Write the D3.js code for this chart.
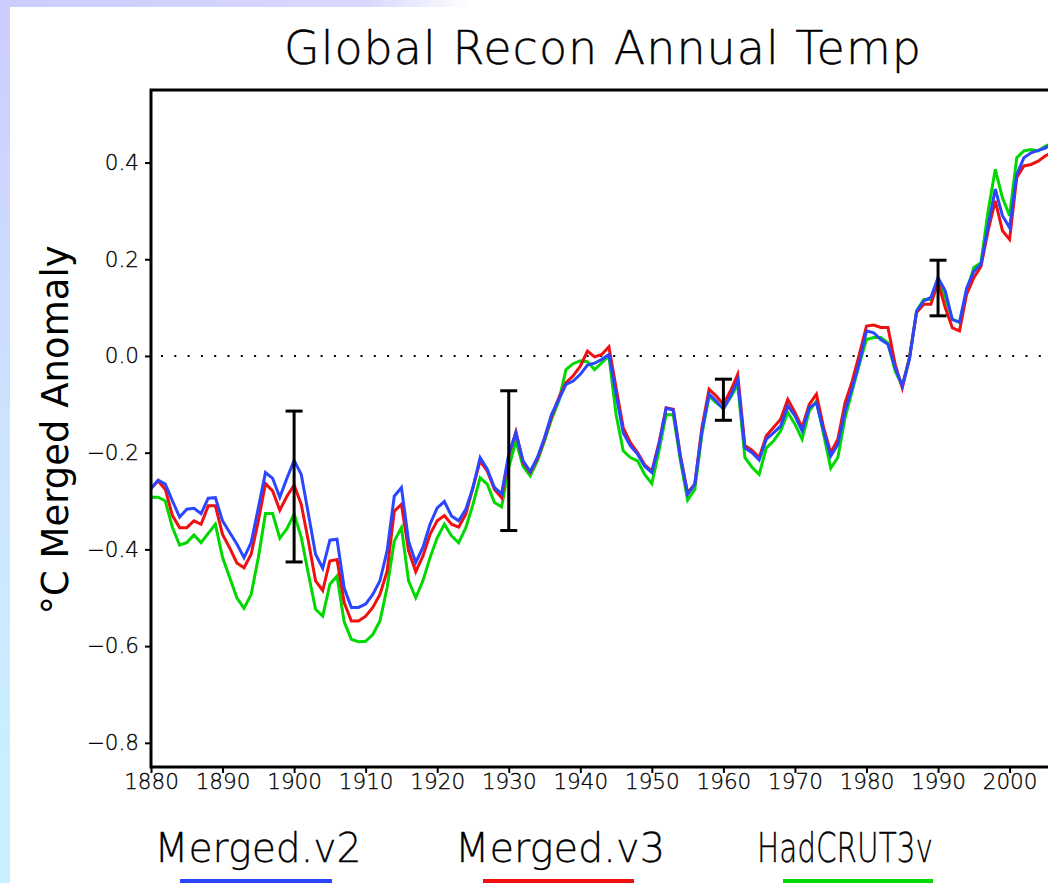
<!DOCTYPE html>
<html>
<head>
<meta charset="utf-8">
<script src="https://cdn.jsdelivr.net/npm/d3@7"></script>
<style>
  body { margin: 0; background: #fff; }
  svg { display: block; }
  text { font-family: "DejaVu Sans", sans-serif; }
</style>
</head>
<body>
<svg id="chart" width="1048" height="883"></svg>
<script>
// years 1880..2006
const years = d3.range(1880, 2007);

const mergedV2 = [
  -0.274, -0.257, -0.265, -0.300, -0.333, -0.317, -0.315, -0.326, -0.294, -0.293,
  -0.341, -0.365, -0.389, -0.417, -0.386, -0.314, -0.241, -0.253, -0.292, -0.253,
  -0.216, -0.245, -0.327, -0.410, -0.439, -0.381, -0.379, -0.480, -0.520, -0.520,
  -0.513, -0.493, -0.465, -0.403, -0.290, -0.272, -0.383, -0.427, -0.396, -0.348,
  -0.314, -0.301, -0.331, -0.341, -0.317, -0.272, -0.210, -0.234, -0.272, -0.285,
  -0.203, -0.159, -0.217, -0.239, -0.210, -0.169, -0.120, -0.090, -0.059, -0.052,
  -0.038, -0.019, -0.015, -0.007, 0.003, -0.079, -0.159, -0.186, -0.203, -0.228,
  -0.241, -0.183, -0.108, -0.112, -0.210, -0.286, -0.265, -0.155, -0.079, -0.093,
  -0.110, -0.083, -0.050, -0.190, -0.200, -0.215, -0.172, -0.159, -0.145, -0.103,
  -0.124, -0.155, -0.107, -0.097, -0.155, -0.207, -0.183, -0.114, -0.066, -0.014,
  0.052, 0.048, 0.034, 0.024, -0.024, -0.062, -0.007, 0.093, 0.114, 0.121,
  0.162, 0.135, 0.075, 0.070, 0.140, 0.175, 0.190, 0.270, 0.345, 0.290,
  0.265, 0.375, 0.410, 0.420, 0.425, 0.430, 0.440
];

const mergedV3 = [
  -0.274, -0.258, -0.276, -0.330, -0.355, -0.355, -0.341, -0.348, -0.310, -0.310,
  -0.369, -0.397, -0.428, -0.438, -0.410, -0.341, -0.264, -0.279, -0.319, -0.290,
  -0.267, -0.307, -0.383, -0.465, -0.485, -0.424, -0.421, -0.510, -0.548, -0.548,
  -0.538, -0.520, -0.493, -0.445, -0.321, -0.307, -0.403, -0.446, -0.414, -0.369,
  -0.341, -0.330, -0.348, -0.354, -0.327, -0.272, -0.217, -0.238, -0.276, -0.293,
  -0.207, -0.157, -0.220, -0.241, -0.213, -0.172, -0.125, -0.086, -0.055, -0.041,
  -0.021, 0.010, -0.002, 0.003, 0.019, -0.066, -0.148, -0.179, -0.200, -0.225,
  -0.238, -0.179, -0.107, -0.110, -0.207, -0.283, -0.265, -0.148, -0.069, -0.083,
  -0.100, -0.072, -0.038, -0.185, -0.195, -0.210, -0.165, -0.148, -0.131, -0.090,
  -0.117, -0.148, -0.100, -0.079, -0.148, -0.200, -0.172, -0.097, -0.052, 0.003,
  0.062, 0.064, 0.059, 0.059, -0.017, -0.066, -0.004, 0.090, 0.107, 0.107,
  0.152, 0.100, 0.058, 0.052, 0.128, 0.162, 0.185, 0.259, 0.321, 0.259,
  0.241, 0.369, 0.393, 0.396, 0.403, 0.414, 0.420
];

const hadcrut3v = [
  -0.292, -0.292, -0.300, -0.355, -0.391, -0.386, -0.370, -0.386, -0.367, -0.348,
  -0.417, -0.458, -0.500, -0.522, -0.493, -0.417, -0.326, -0.326, -0.377, -0.357,
  -0.327, -0.375, -0.451, -0.524, -0.538, -0.472, -0.455, -0.550, -0.586, -0.591,
  -0.590, -0.576, -0.548, -0.479, -0.383, -0.355, -0.465, -0.500, -0.465, -0.417,
  -0.376, -0.348, -0.372, -0.386, -0.355, -0.307, -0.252, -0.265, -0.303, -0.312,
  -0.231, -0.176, -0.228, -0.248, -0.217, -0.176, -0.130, -0.093, -0.028, -0.016,
  -0.010, -0.012, -0.028, -0.014, 0.000, -0.121, -0.196, -0.210, -0.217, -0.245,
  -0.264, -0.196, -0.121, -0.122, -0.217, -0.298, -0.276, -0.162, -0.083, -0.097,
  -0.108, -0.086, -0.059, -0.210, -0.230, -0.245, -0.190, -0.176, -0.155, -0.117,
  -0.141, -0.172, -0.114, -0.093, -0.162, -0.232, -0.210, -0.128, -0.072, -0.017,
  0.034, 0.038, 0.038, 0.027, -0.031, -0.062, -0.004, 0.093, 0.117, 0.117,
  0.159, 0.120, 0.076, 0.069, 0.134, 0.183, 0.193, 0.300, 0.386, 0.327,
  0.290, 0.410, 0.424, 0.427, 0.424, 0.434, 0.440
];

// error bars
const errYears = [1900, 1930, 1960, 1990];
const errHigh = [-0.114, -0.072, -0.048, 0.198];
const errLow = [-0.426, -0.361, -0.133, 0.083];

const yTicks = [-0.8, -0.6, -0.4, -0.2, 0.0, 0.2, 0.4];
const xTicks = d3.range(1880, 2001, 10);

const seriesNames = ["Merged.v2", "Merged.v3", "HadCRUT3v"];
const seriesColors = ["#2a46ff", "#f01010", "#00d800"];

const svg = d3.select("#chart");

// background: tinted strip on the left and top, white panel
const defs = svg.append("defs");
const vgrad = defs.append("linearGradient").attr("id", "leftgrad")
  .attr("x1", 0).attr("y1", 0).attr("x2", 0).attr("y2", 1);
vgrad.append("stop").attr("offset", "0%").attr("stop-color", "#ccccff");
vgrad.append("stop").attr("offset", "55%").attr("stop-color", "#cde6ff");
vgrad.append("stop").attr("offset", "100%").attr("stop-color", "#c8f2ff");
const hgrad = defs.append("linearGradient").attr("id", "topgrad")
  .attr("x1", 0).attr("y1", 0).attr("x2", 1).attr("y2", 0);
hgrad.append("stop").attr("offset", "0%").attr("stop-color", "#ccccff");
hgrad.append("stop").attr("offset", "35%").attr("stop-color", "#d8d8ff");
hgrad.append("stop").attr("offset", "45%").attr("stop-color", "#ffffff");

svg.append("rect").attr("width", 1048).attr("height", 883).attr("fill", "#fff");
svg.append("rect").attr("width", 1048).attr("height", 7).attr("fill", "url(#topgrad)");
svg.append("rect").attr("width", 10).attr("height", 883).attr("fill", "url(#leftgrad)");

const plotLeft = 151, plotTop = 90, plotBottom = 767;
const x = d3.scaleLinear().domain([1880, 2010]).range([plotLeft, plotLeft + 130 * 7.155]);
const y = d3.scaleLinear().domain([-0.85, 0.55]).range([plotBottom, plotTop]);

// clip to plot area
defs.append("clipPath").attr("id", "plotclip")
  .append("rect").attr("x", plotLeft).attr("y", plotTop)
  .attr("width", x(2010) - plotLeft).attr("height", plotBottom - plotTop);

// title
svg.append("text")
  .attr("x", 603).attr("y", 64)
  .attr("text-anchor", "middle")
  .attr("font-size", 46)
  .attr("font-weight", 200)
  .attr("stroke", "#000").attr("stroke-width", 0.4)
  .attr("letter-spacing", 1)
  .text("Global Recon Annual Temp");

// y label
svg.append("text")
  .attr("transform", "translate(68,430) rotate(-90)")
  .attr("text-anchor", "middle")
  .attr("font-size", 37)
  .text("°C Merged Anomaly");

// zero line
svg.append("line")
  .attr("x1", plotLeft + 10).attr("x2", x(2010))
  .attr("y1", y(0)).attr("y2", y(0))
  .attr("stroke", "#000").attr("stroke-width", 2)
  .attr("stroke-dasharray", "2,11.3");

// lines
const line = d3.line().x((d, i) => x(years[i])).y(d => y(d));
const plot = svg.append("g").attr("clip-path", "url(#plotclip)");
const order = [
  { data: hadcrut3v, color: seriesColors[2] },
  { data: mergedV3, color: seriesColors[1] },
  { data: mergedV2, color: seriesColors[0] }
];
plot.selectAll("path.series")
  .data(order)
  .join("path")
  .attr("class", "series")
  .attr("fill", "none")
  .attr("stroke", d => d.color)
  .attr("stroke-width", 3)
  .attr("stroke-linejoin", "miter")
  .attr("d", d => line(d.data));

// error bars
const eb = svg.append("g").attr("stroke", "#000").attr("stroke-width", 3);
errYears.forEach((yr, i) => {
  eb.append("line").attr("x1", x(yr)).attr("x2", x(yr))
    .attr("y1", y(errHigh[i])).attr("y2", y(errLow[i]));
  eb.append("line").attr("x1", x(yr) - 8.5).attr("x2", x(yr) + 8.5)
    .attr("y1", y(errHigh[i])).attr("y2", y(errHigh[i]));
  eb.append("line").attr("x1", x(yr) - 8.5).attr("x2", x(yr) + 8.5)
    .attr("y1", y(errLow[i])).attr("y2", y(errLow[i]));
});

// axes
const yAxis = d3.axisLeft(y).tickValues(yTicks).tickSize(6).tickPadding(6)
  .tickFormat(d3.format(".1f"));
const gy = svg.append("g").attr("transform", `translate(${plotLeft},0)`).call(yAxis);
const xAxis = d3.axisBottom(x).tickValues(xTicks).tickSize(6).tickPadding(1)
  .tickFormat(d3.format("d"));
const gx = svg.append("g").attr("transform", `translate(0,${plotBottom})`).call(xAxis);
[gx, gy].forEach(g => {
  g.select(".domain").remove();
  g.selectAll(".tick line").attr("stroke", "#000").attr("stroke-width", 2);
  g.selectAll(".tick text").attr("font-size", 21.5).attr("fill", "#000")
    .attr("stroke", "#000").attr("stroke-width", 0.3)
    .attr("font-weight", 200).attr("font-family", "DejaVu Sans, sans-serif");
});

// frame
svg.append("path")
  .attr("d", `M${x(2010)},${plotTop} H${plotLeft} V${plotBottom} H${x(2010)}`)
  .attr("fill", "none").attr("stroke", "#000").attr("stroke-width", 3);

// legend
const legX = [258, 560, 845];
const legW = [207, 210, 176];
const legLine = [[180, 332], [483, 634], [783, 933]];
seriesNames.forEach((name, i) => {
  svg.append("text")
    .attr("x", legX[i]).attr("y", 862)
    .attr("text-anchor", "middle")
    .attr("font-size", 40)
    .attr("font-weight", 200)
    .attr("stroke", "#000").attr("stroke-width", 0.3)
    .attr("textLength", legW[i])
    .attr("lengthAdjust", "spacingAndGlyphs")
    .text(name);
  svg.append("line")
    .attr("x1", legLine[i][0]).attr("x2", legLine[i][1])
    .attr("y1", 881).attr("y2", 881)
    .attr("stroke", seriesColors[i]).attr("stroke-width", 4);
});
</script>
</body>
</html>
